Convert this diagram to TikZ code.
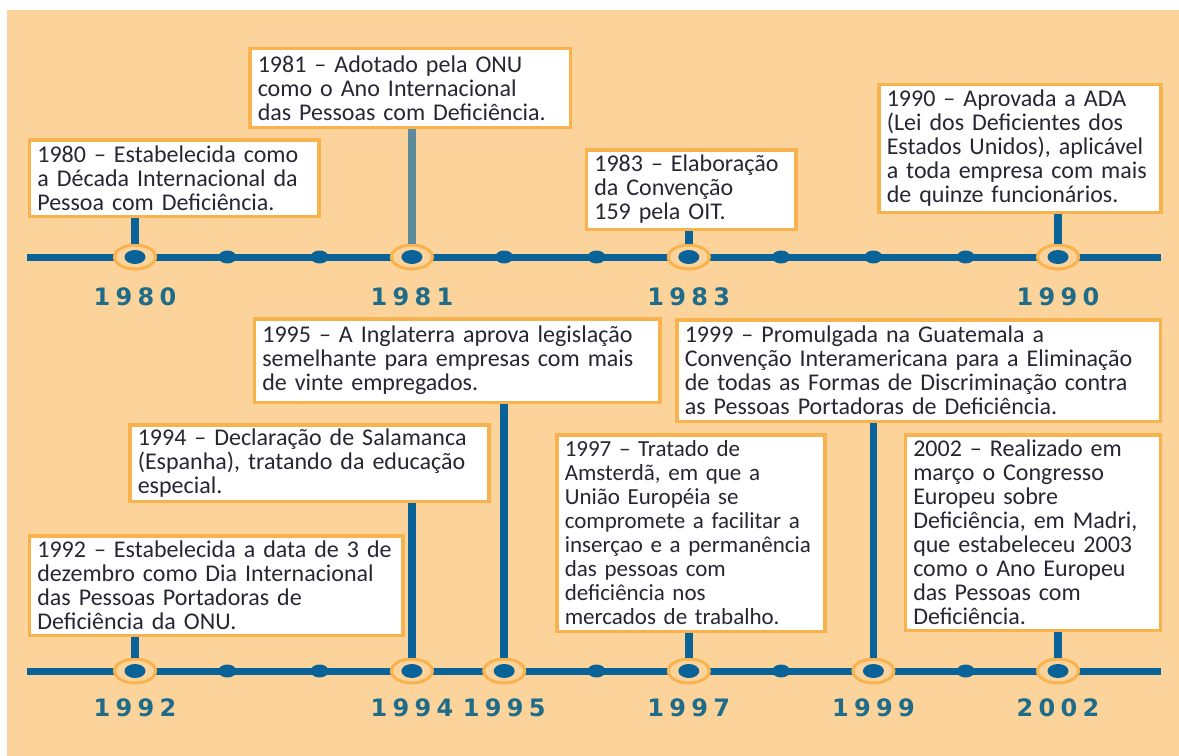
\documentclass[tikz,border=0pt]{standalone}
\usepackage{fontspec}
\setmainfont{Carlito}
\newfontfamily\yearfont[LetterSpace=22]{DejaVu Sans}
\usetikzlibrary{shapes.geometric, positioning, calc}
\definecolor{bgpeach}{RGB}{252, 212, 155}
\definecolor{ringorange}{RGB}{248, 178, 78}
\definecolor{lineblue}{RGB}{10, 99, 152}
\definecolor{stemgray}{RGB}{92, 140, 156}
\definecolor{yearteal}{RGB}{30, 108, 138}
\definecolor{txtdark}{RGB}{40, 38, 50}

\begin{document}
\begin{tikzpicture}[x=1bp, y=-1bp,
  evbox/.style={draw=ringorange, fill=white, line width=3.5bp, anchor=north west, align=left, inner xsep=8bp, inner ysep=2bp, text=txtdark, font=\fontsize{24bp}{24bp}\selectfont},
  ring/.style={ellipse, draw=ringorange, fill=bgpeach, line width=3bp, minimum width=41bp, minimum height=24bp, inner sep=0pt},
  stem/.style={draw=lineblue, line width=7.5bp},
  yearlbl/.style={font=\yearfont\bfseries\fontsize{24bp}{24bp}\selectfont, text=yearteal}
]
  \useasboundingbox (0,0) rectangle (1179,756);
  \fill[bgpeach] (7,10) rectangle (1179,756);

  \draw[lineblue, line width=7bp] (27,257) -- (1161,257);
  \draw[lineblue, line width=7bp] (27,671) -- (1161,671);
  \foreach \k in {0,...,10} {
    \fill[lineblue] ({135+92.3*\k},257) ellipse (9 and 6.5);
    \fill[lineblue] ({135+92.3*\k},671) ellipse (9 and 6.5);
  }

  \node[evbox, text width=273.5bp, minimum height=76.5bp] (b1980) at (27.6,138) {1980 – Estabelecida como\\a Década Internacional da\\Pessoa com Deficiência.};
  \node[evbox, text width=304.5bp, minimum height=78.5bp] (b1981) at (248,47) {1981 – Adotado pela ONU\\como o Ano Internacional\\das Pessoas com Deficiência.};
  \node[evbox, text width=193.5bp, minimum height=79.5bp] (b1983) at (584.6,148) {1983 – Elaboração\\da Convenção\\159 pela OIT.};
  \node[evbox, text width=266bp, minimum height=127.5bp] (b1990) at (877,83) {1990 – Aprovada a ADA\\(Lei dos Deficientes dos\\Estados Unidos), aplicável\\a toda empresa com mais\\de quinze funcionários.};
  \node[evbox, text width=389.5bp, minimum height=83.5bp] (b1995) at (252.6,317) {1995 – A Inglaterra aprova legislação\\semelhante para empresas com mais\\de vinte empregados.};
  \node[evbox, text width=343bp, minimum height=76.5bp] (b1994) at (128,423) {1994 – Declaração de Salamanca\\(Espanha), tratando da educação\\especial.};
  \node[evbox, text width=357.5bp, minimum height=99.5bp] (b1992) at (27.6,534) {1992 – Estabelecida a data de 3 de\\dezembro como Dia Internacional\\das Pessoas Portadoras de\\Deficiência da ONU.};
  \node[evbox, text width=467.5bp, minimum height=101.5bp] (b1999) at (675,318) {1999 – Promulgada na Guatemala a\\Convenção Interamericana para a Eliminação\\de todas as Formas de Discriminação contra\\as Pessoas Portadoras de Deficiência.};
  \node[evbox, text width=252bp, minimum height=196.5bp, font=\fontsize{23bp}{24bp}\selectfont] (b1997) at (555,433) {1997 – Tratado de\\Amsterdã, em que a\\União Européia se\\compromete a facilitar a\\inserçao e a permanência\\das pessoas com\\deficiência nos\\mercados de trabalho.};
  \node[evbox, text width=239bp, minimum height=195.5bp] (b2002) at (903.5,433) {2002 – Realizado em\\março o Congresso\\Europeu sobre\\Deficiência, em Madri,\\que estabeleceu 2003\\como o Ano Europeu\\das Pessoas com\\Deficiência.};

  \foreach \yr/\k/\ly/\ty in {1980/0/257/297, 1981/3/257/297, 1983/6/257/297, 1990/10/257/297,
                             1992/0/671/708, 1994/3/671/708, 1995/4/671/708, 1997/6/671/708, 1999/8/671/708, 2002/10/671/708} {
    \node[ring] (r\yr) at ({135+92.3*\k},\ly) {};
    \fill[lineblue] (r\yr.center) ellipse (10.5 and 7);
    \node[yearlbl] (y\yr) at ({135+92.3*\k},\ty) {\yr};
  }

  \draw[stem] (r1980.north) -- (r1980.north |- b1980.south);
  \draw[stem, draw=stemgray] (r1981.north) -- (r1981.north |- b1981.south);
  \draw[stem] (r1983.north) -- (r1983.north |- b1983.south);
  \draw[stem] (r1990.north) -- (r1990.north |- b1990.south);
  \draw[stem] (r1992.north) -- (r1992.north |- b1992.south);
  \draw[stem] (r1994.north) -- (r1994.north |- b1994.south);
  \draw[stem] (r1995.north) -- (r1995.north |- b1995.south);
  \draw[stem] (r1997.north) -- (r1997.north |- b1997.south);
  \draw[stem] (r1999.north) -- (r1999.north |- b1999.south);
  \draw[stem] (r2002.north) -- (r2002.north |- b2002.south);
\end{tikzpicture}
\end{document}
